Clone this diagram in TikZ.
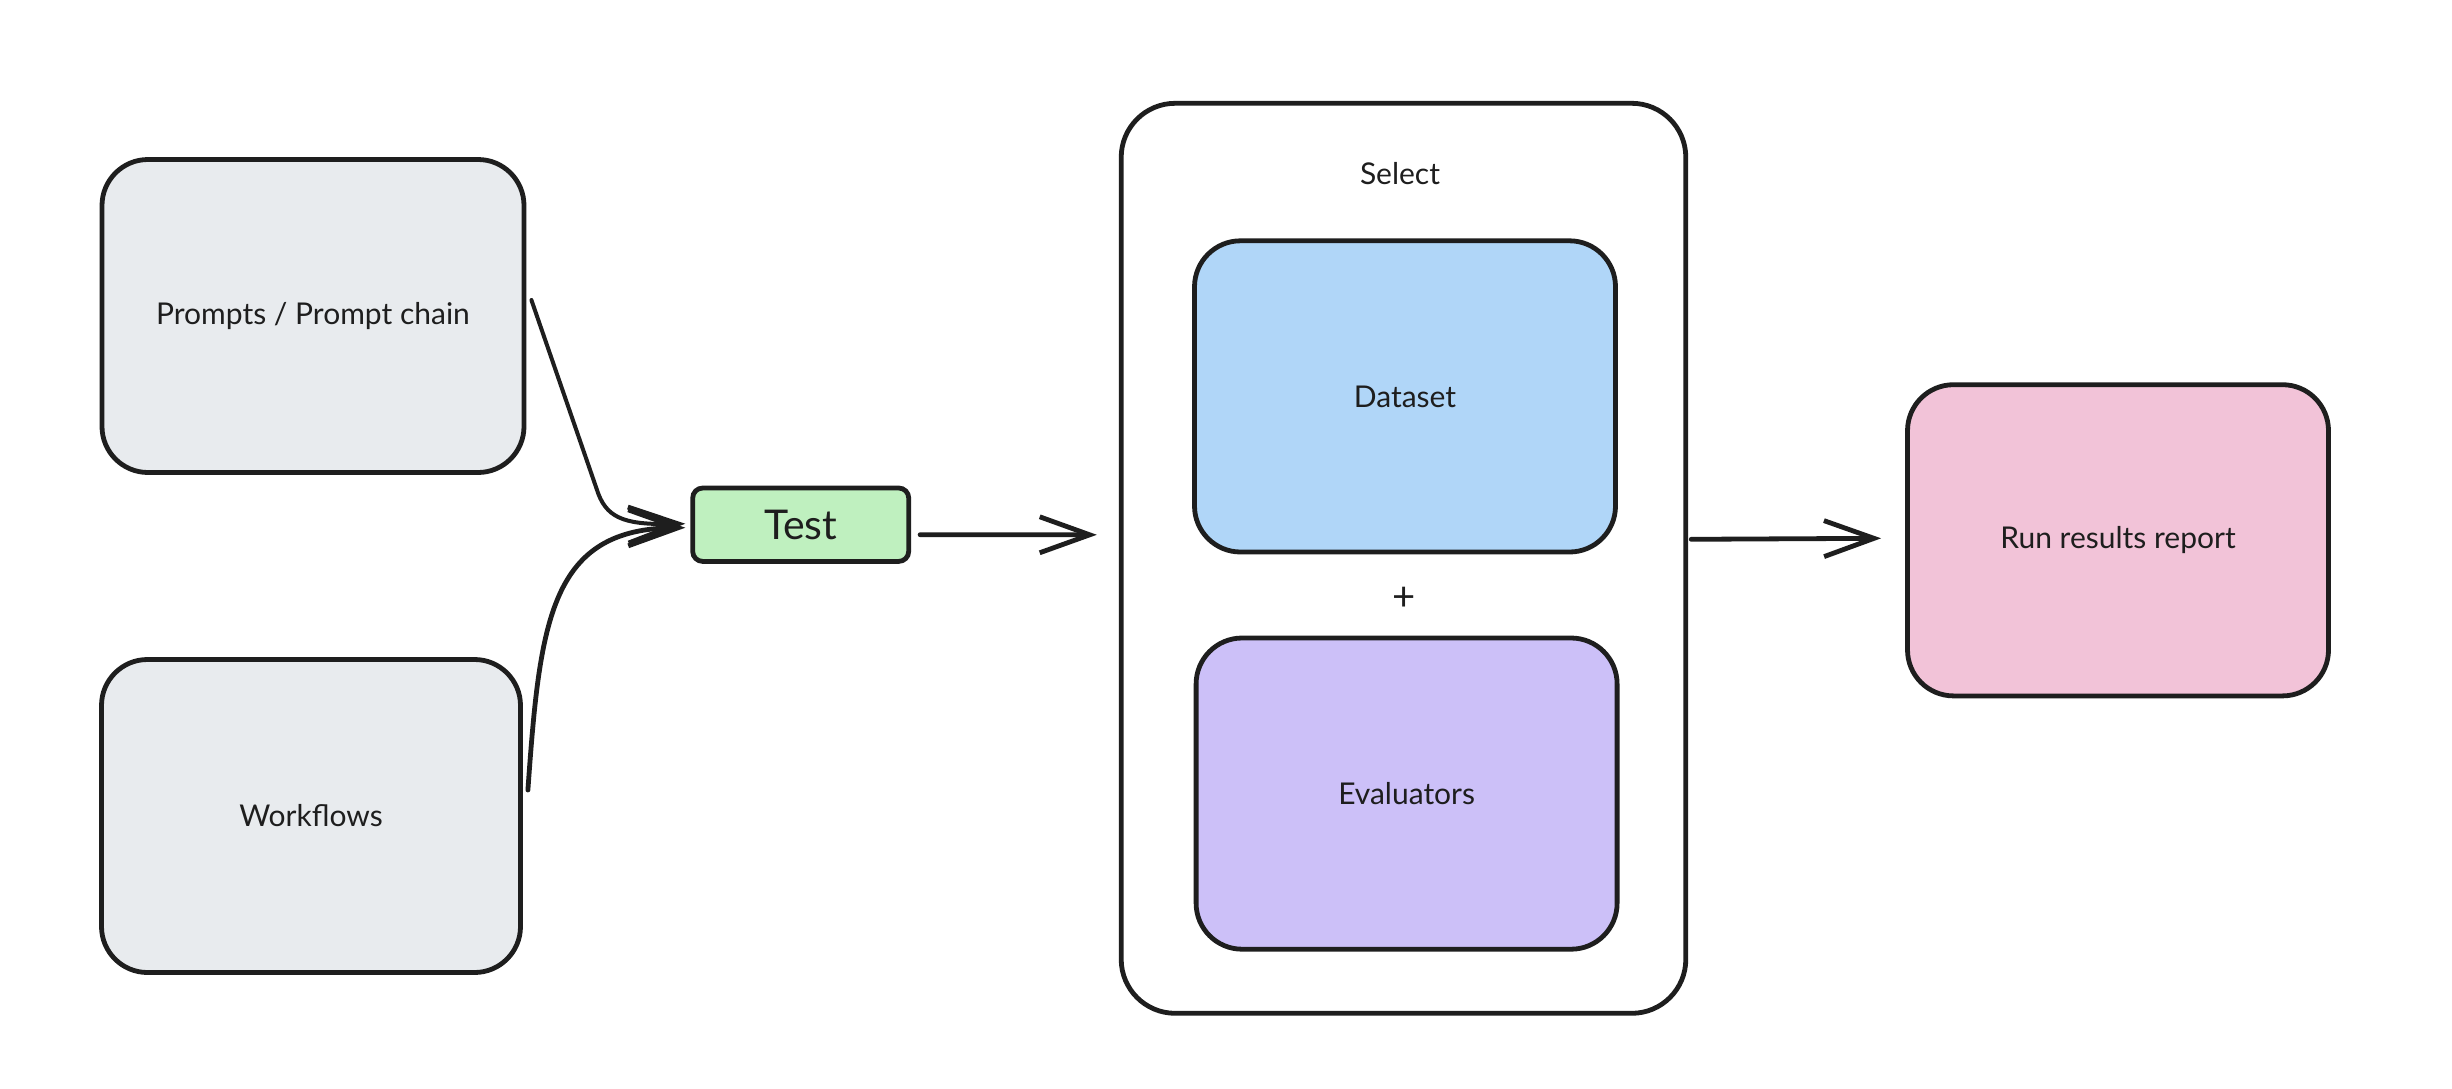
\documentclass[tikz,border=0pt]{standalone}
\usepackage{fontspec}
\setmainfont{Lato}
\usetikzlibrary{arrows.meta,calc}
\definecolor{ink}{HTML}{1E1E1E}
\definecolor{grayfill}{HTML}{E8EBEE}
\definecolor{bluefill}{HTML}{B0D6F8}
\definecolor{violetfill}{HTML}{CCC0F8}
\definecolor{pinkfill}{HTML}{F2C3D8}
\definecolor{greenfill}{HTML}{BFF0BF}
\tikzset{
  x=0.5pt, y=-0.5pt,
  lbl/.style={font=\fontsize{15}{18}\selectfont, text=ink},
  card/.style={draw=ink, line width=2.4pt, rounded corners=23pt, lbl,
    minimum width=210.5pt, minimum height=155.6pt, inner sep=0pt},
  testbox/.style={draw=ink, line width=2.4pt, rounded corners=5pt, fill=greenfill,
    minimum width=108pt, minimum height=36.7pt, inner sep=0pt,
    font=\fontsize{20.5}{24}\selectfont, text=ink},
  container/.style={draw=ink, line width=2.4pt, rounded corners=27pt, fill=white,
    minimum width=282.3pt, minimum height=455pt, inner sep=0pt},
  conn/.style={draw=ink, line width=2.4pt, line cap=round,
    -{Straight Barb[length=25pt, width=18pt, line width=2.4pt]}},
}
\begin{document}
\begin{tikzpicture}
\useasboundingbox[fill=white] (0,0) rectangle (2452,1088);

\node[card, fill=grayfill, minimum width=211pt, minimum height=156.5pt] (p) at (313,316) {Prompts / Prompt chain};
\node[card, fill=grayfill, minimum width=209.5pt, minimum height=156.5pt] (w) at (311,816) {Workflows};
\node[testbox] (t) at (800.7,524.7) {Test};

\node[container] (sel) at (1403.5,558.3) {};
\node[lbl] (sellabel) at (1400,174) {Select};
\node[card, fill=bluefill] (d) at (1405,396.4) {Dataset};
\node[lbl, font=\fontsize{20}{24}\selectfont] (plus) at (1404.3,599) {+};
\node[card, fill=violetfill] (e) at (1406.6,793.6) {Evaluators};

\node[card, fill=pinkfill] (r) at (2118,540.3) {Run results report};

% connectors
\draw[conn, line width=2pt] ($(p.east)+(5,-16)$) -- ($(p.east)+(72,178)$)
  .. controls ($(p.east)+(82,204)$) and ($(p.east)+(102,209)$) .. ($(t.west)+(-5,-1)$);
\draw[conn] ($(w.east)+(5,-26)$) .. controls (540,620) and (550,528) .. ($(t.west)+(-5,3)$);
\draw[conn] ($(t.east)+(9,10)$) -- ($(sel.west)+(-22,-23.5)$);
\draw[conn] ($(sel.east)+(3,-19)$) -- ($(r.west)+(-24,-2)$);
\end{tikzpicture}
\end{document}
